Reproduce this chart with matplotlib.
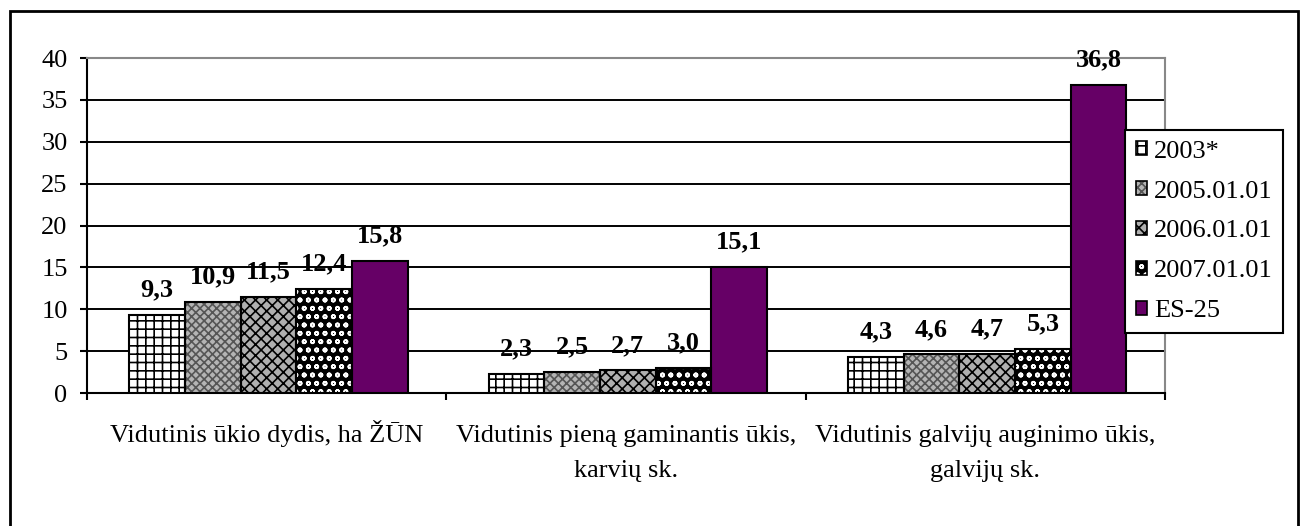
import numpy as np
import matplotlib
matplotlib.use('Agg')
import matplotlib.pyplot as plt
from matplotlib.patches import Patch, Rectangle

plt.rcParams['font.family'] = ['Liberation Serif', 'DejaVu Serif']
plt.rcParams['hatch.linewidth'] = 1.2

# duomenys
categories = [['Vidutinis ūkio dydis, ha ŽŪN'],
              ['Vidutinis pieną gaminantis ūkis,', 'karvių sk.'],
              ['Vidutinis galvijų auginimo ūkis,', 'galvijų sk.']]
series = ['2003*', '2005.01.01', '2006.01.01', '2007.01.01', 'ES-25']
v2003 = [9.3, 2.3, 4.3]
v2005 = [10.9, 2.5, 4.6]
v2006 = [11.5, 2.7, 4.7]
v2007 = [12.4, 3.0, 5.3]
ves25 = [15.8, 15.1, 36.8]
values = [v2003, v2005, v2006, v2007, ves25]

# stiliai: (fono spalva, štrichavimas, štrichavimo spalva)
styles = [('white', '++', 'black'),
          ('#b4b4b4', 'xxxx', '#555555'),
          ('#b0b0b0', 'xxx', 'black'),
          ('black', 'oo', 'white'),
          ('#660066', '', '#660066')]

fig = plt.figure(figsize=(13.01, 5.26), dpi=100)
ax = fig.add_axes([87 / 1301, 1 - 393 / 526, (1165 - 87) / 1301, (393 - 58) / 526])

x = np.arange(len(categories))
w = 0.155
fs = 19

handles = []
for i, (vals, (fc, h, hc)) in enumerate(zip(values, styles)):
    pos = x + (i - 2) * w + 0.005
    ax.bar(pos, vals, w, color=fc, edgecolor=hc, hatch=h, linewidth=0, zorder=3)
    ax.bar(pos, vals, w, fill=False, edgecolor='black', linewidth=1.5, zorder=4)
    for px, v in zip(pos, vals):
        ax.annotate(f'{v:.1f}'.replace('.', ','), (px, v), xytext=(0, 18),
                    textcoords='offset points', ha='center', va='center',
                    fontsize=fs, fontweight='bold', zorder=5)
    handles.append((Patch(facecolor=fc, edgecolor=hc, hatch=h, linewidth=0),
                    Patch(fill=False, edgecolor='black', linewidth=1.2)))

ax.set_xlim(-0.5, 2.5)
ax.set_ylim(0, 40)
ax.set_yticks(np.arange(0, 41, 5))
ax.yaxis.grid(True, color='black', linewidth=1.4, zorder=0)
ax.set_axisbelow(True)

# kategorijų ribos
ax.set_xticks([-0.5, 0.5, 1.5, 2.5])
ax.set_xticklabels([])
ax.tick_params(axis='x', which='major', direction='out', length=5, width=1.5)
ax.tick_params(axis='y', direction='out', length=5, width=1.5, pad=9, labelsize=fs)

# kategorijų pavadinimai (kiekviena eilutė atskirai, kad sutaptų bazinės linijos)
for xi, lines in zip(x, categories):
    for j, line in enumerate(lines):
        ax.annotate(line, (xi, 0), xycoords=('data', 'axes fraction'),
                    xytext=(0, -49 - 35 * j), textcoords='offset pixels',
                    ha='center', va='baseline', fontsize=fs, annotation_clip=False)

for s in ['left', 'bottom']:
    ax.spines[s].set_linewidth(1.5)
for s in ['top', 'right']:
    ax.spines[s].set_color('#888888')
    ax.spines[s].set_linewidth(1.5)

leg = fig.legend(handles, series, loc='upper left',
                 bbox_to_anchor=(1125 / 1301, 1 - 130 / 526), borderaxespad=0,
                 fontsize=fs, frameon=True, fancybox=False, framealpha=1,
                 edgecolor='black', handlelength=0.45, handleheight=0.45,
                 handletextpad=0.25, borderpad=0.4, labelspacing=0.68)
leg.get_frame().set_linewidth(1.5)
leg.set_zorder(10)

# rėmelis aplink visą diagramą
fig.patches.append(Rectangle((10 / 1301, -0.02), 1288 / 1301, 1 - 11 / 526 + 0.02,
                             transform=fig.transFigure, fill=False,
                             edgecolor='black', linewidth=2))

fig.savefig('out.png', dpi=100)
